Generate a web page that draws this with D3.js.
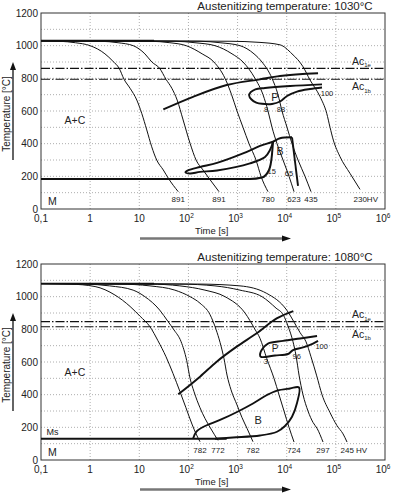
<!DOCTYPE html>
<html><head><meta charset="utf-8">
<script src="https://cdn.jsdelivr.net/npm/d3@7"></script>
<style>
body{margin:0;background:#fff}
svg{display:block;font-family:"Liberation Sans",Arial,sans-serif}
</style></head><body>
<svg id="chart" width="393" height="495"></svg>
<script>
// axes
const decades = [0.1, 1, 10, 1e2, 1e3, 1e4, 1e5, 1e6];
const decadeLabels = [["0,1", ""], ["1", ""], ["10", ""], ["10", "2"], ["10", "3"], ["10", "4"], ["10", "5"], ["10", "6"]];
const tempTicks = [0, 200, 400, 600, 800, 1000, 1200];
const gridTemps = d3.range(100, 1200, 100);

// ---- panel 1: austenitized at 1030 C  [time s, temp C]
const aust1 = 1030, ms1 = 184, ac1e1 = 861, ac1b1 = 794;
const cool1 = [
  [[0.1,1030],[0.24,1027],[0.5,1018],[1,1000],[2,950],[2.9,905],[3.9,861],[4.9,794],[6.5,739],[8.9,667],[11.2,586],[14.2,484],[17.9,381],[22.6,300],[30.8,239],[39,188],[62,106]],
  [[0.1,1030],[1.6,1027],[3.7,1018],[7.5,1000],[13,950],[18,900],[26,861],[35,794],[46,739],[59,667],[78,545],[108,402],[143,300],[198,239],[262,188],[419,106]],
  [[0.1,1030],[16.5,1027],[42,1018],[90,1000],[190,950],[330,900],[555,800],[755,700],[975,600],[1290,500],[1710,400],[2370,300],[3000,200],[4160,106]],
  [[0.1,1030],[53,1027],[136,1018],[347,1000],[771,950],[1290,900],[2260,800],[3290,700],[4160,600],[5020,500],[6350,400],[8410,300],[11140,200],[14090,106]],
  [[0.1,1030],[172,1027],[440,1018],[1120,1000],[2160,950],[3140,900],[5020,800],[6650,700],[8020,600],[10140,500],[12820,400],[16980,300],[23570,200],[31220,106]],
  [[0.1,1030],[700,1027],[2860,1020],[7310,1005],[12800,950],[21500,871],[29800,790],[47600,688],[65100,586],[76100,500],[88800,422],[121600,320],[194000,218],[310000,120]]
];
const hv1 = ["891", "891", "780", "623", "435", "230"];
const carb1 = [[30.8,610],[124,687],[601,759],[2860,794],[7310,814],[43400,831]];
const pOutline1 = [[52300,763],[11700,753],[3620,741],[2300,733],[1850,715],[1720,695],[1900,672],[2400,652],[3140,644],[5020,643],[7310,658],[10140,692],[16200,719],[29800,735],[52300,744]];
const bTongue1 = [[5260,410],[4570,361],[3620,318],[1790,279],[382,236],[172,227],[108,217],[87,224],[98,236],[172,257],[382,282],[1290,340],[2860,386],[5260,413],[7310,433],[12820,439]];
const bEdge1 = [[12820,439],[16980,141]];
const msLine1 = [[0.1,184],[1790,184],[3140,193],[4360,239],[5000,330],[5260,410]];
const notes1 = [["P",5780,684,11],["B",7310,351,10.5],["8",3790,612,7.5],["88",7650,612,7.5],["100",66100,710,7.5],["15",4950,228,7.5],["65",11140,220,7.5],["A+C",0.49,545,10.5],["M",0.171,45,10.5]];

// ---- panel 2: austenitized at 1080 C
const aust2 = 1080, ms2 = 130, ac1e2 = 847, ac1b2 = 816;
const cool2 = [
  [[0.1,1080],[0.39,1077],[1.26,1062],[3.2,1010],[6.5,940],[10.4,880],[16.5,816],[24,730],[35,632],[48.5,530],[67,420],[89,320],[118,220],[143,160],[172,112]],
  [[0.1,1080],[0.79,1077],[2.5,1066],[7.5,1040],[13,1000],[26,918],[38,850],[51,796],[71,724],[92,610],[108,500],[130,418],[172,320],[217,255],[288,190],[400,120]],
  [[0.1,1080],[4,1077],[16.5,1066],[53,1040],[108,1000],[172,960],[275,890],[364,800],[440,720],[530,620],[610,520],[735,430],[975,337],[1230,260],[1556,194],[2060,112]],
  [[0.1,1080],[16.5,1077],[67,1066],[217,1040],[555,1000],[1417,900],[2260,800],[2860,745],[3920,622],[5510,500],[6970,400],[8810,300],[11140,200],[14090,110]],
  [[0.1,1080],[67,1077],[347,1066],[1120,1040],[3140,1000],[6060,930],[8530,888],[10620,820],[13430,724],[15460,640],[17800,520],[21460,400],[27100,300],[34300,230],[41400,194],[54800,110]],
  [[0.1,1080],[172,1077],[1120,1066],[3920,1020],[10000,918],[15960,816],[18700,780],[24700,724],[31200,632],[40800,515],[52300,400],[76100,290],[105700,210],[140000,160],[168700,110]]
];
const hv2 = ["782", "772", "782", "724", "297", "245"];
const carb2 = [[62,402],[172,510],[376,602],[960,694],[2450,776],[6250,867],[13620,912]];
const pOutline2 = [[41400,759],[18700,744],[8410,729],[4160,713],[3290,686],[2860,645],[3000,631],[5780,640],[10620,649],[13430,673],[21460,689],[34300,713],[43400,729]];
const bOutline2 = [[124,130],[143,171],[198,202],[440,245],[975,294],[2060,346],[3970,398],[6350,425],[11700,438],[17800,444],[16200,349],[12820,265],[9230,208],[6350,173],[2860,150],[807,138],[347,130]];
const msLine2 = [[0.1,130],[600,130]];
const notes2 = [["P",5780,680,10],["B",2640,245,11],["3",3740,606,7.5],["96",15960,637,7.5],["100",51500,694,7.5],["A+C",0.49,539,10.5],["M",0.171,49,10.5],["Ms",0.171,174,9]];

const svg = d3.select("#chart");
const x = d3.scaleLog().domain([0.1, 1e6]).range([41, 385]);

function drawPanel(p) {
  const y = d3.scaleLinear().domain([0, 1200]).range([p.y1, p.y0]);
  const g = svg.append("g");
  const smooth = d3.line().x(d => x(d[0])).y(d => y(d[1])).curve(d3.curveMonotoneX);
  const loop = d3.line().x(d => x(d[0])).y(d => y(d[1])).curve(d3.curveCatmullRom);

  // dotted grid
  g.selectAll(".vg").data(decades.slice(1, -1)).join("line")
    .attr("x1", d => x(d)).attr("x2", d => x(d)).attr("y1", p.y0).attr("y2", p.y1)
    .attr("stroke", "#999").attr("stroke-width", 0.8).attr("stroke-dasharray", "1,2");
  g.selectAll(".hg").data(gridTemps).join("line")
    .attr("x1", 41).attr("x2", 385).attr("y1", d => y(d)).attr("y2", d => y(d))
    .attr("stroke", "#999").attr("stroke-width", 0.8).attr("stroke-dasharray", "1,2");

  g.append("rect").attr("x", 41).attr("y", p.y0).attr("width", 344).attr("height", p.y1 - p.y0)
    .attr("fill", "none").attr("stroke", "#333").attr("stroke-width", 1);

  // tick labels
  g.selectAll(".yl").data(tempTicks).join("text")
    .attr("x", 38).attr("y", d => y(d)).attr("dy", "0.35em").attr("text-anchor", "end")
    .attr("font-size", 10).attr("fill", "#222").text(d => d);
  const xl = g.selectAll(".xl").data(decades).join("text")
    .attr("x", (d, i) => x(d) + (decadeLabels[i][1] ? -2 : 0)).attr("y", p.y1 + 13)
    .attr("text-anchor", "middle").attr("font-size", 10).attr("fill", "#222");
  xl.append("tspan").text((d, i) => decadeLabels[i][0]);
  xl.append("tspan").attr("dy", -4).attr("font-size", 6.5).text((d, i) => decadeLabels[i][1]);

  g.append("text").attr("x", 285).attr("y", p.y0 - 3).attr("text-anchor", "middle")
    .attr("font-size", 11.5).attr("fill", "#222").text(p.title);

  // axis titles with arrows
  g.append("text").attr("x", 195).attr("y", p.y1 + 25).attr("font-size", 9.5).attr("fill", "#222").text("Time [s]");
  g.append("line").attr("x1", 140).attr("x2", 282).attr("y1", p.y1 + 29.5).attr("y2", p.y1 + 29.5)
    .attr("stroke", "#777").attr("stroke-width", 2.5);
  g.append("path").attr("d", `M282,${p.y1 + 26.5}L291,${p.y1 + 29.5}L282,${p.y1 + 32.5}Z`).attr("fill", "#111");
  g.append("text").attr("transform", `translate(10,${p.y0 + 101}) rotate(-90)`).attr("text-anchor", "middle")
    .attr("font-size", 10).attr("fill", "#222").text("Temperature [°C]");
  g.append("line").attr("x1", 13).attr("x2", 13).attr("y1", p.y0 + 147).attr("y2", p.y0 + 55)
    .attr("stroke", "#111").attr("stroke-width", 1.3);
  g.append("path").attr("d", `M10,${p.y0 + 57}L13,${p.y0 + 49}L16,${p.y0 + 57}Z`).attr("fill", "#111");

  // Ac lines
  [p.ace, p.acb].forEach(t => g.append("line").attr("x1", 41).attr("x2", 385).attr("y1", y(t)).attr("y2", y(t))
    .attr("stroke", "#111").attr("stroke-width", 1.1).attr("stroke-dasharray", "9,2,1.5,2"));
  [["1e", p.ace, -3.5], ["1b", p.acb, 11]].forEach(([s, t, dy]) => {
    const tx = g.append("text").attr("x", 352).attr("y", y(t) + dy).attr("font-size", 10.5).attr("fill", "#222");
    tx.append("tspan").text("Ac");
    tx.append("tspan").attr("dy", 2.5).attr("font-size", 6).text(s);
  });

  // austenitizing and Ms lines
  g.append("path").attr("d", smooth([[0.1, p.aust], [20, p.aust]])).attr("fill", "none").attr("stroke", "#111").attr("stroke-width", 1.8);
  g.append("path").attr("d", smooth(p.ms)).attr("fill", "none").attr("stroke", "#111").attr("stroke-width", 2);

  // cooling curves
  g.selectAll(".cc").data(p.cool).join("path").attr("d", smooth)
    .attr("fill", "none").attr("stroke", "#111").attr("stroke-width", 1);
  g.selectAll(".hv").data(p.cool).join("text")
    .attr("x", (d, i) => x(d[d.length - 1][0]) + (i === p.cool.length - 1 ? -6.5 : 0))
    .attr("y", p.y1 - 7).attr("text-anchor", (d, i) => i === p.cool.length - 1 ? "start" : "middle")
    .attr("font-size", 8).attr("fill", "#222")
    .text((d, i) => p.hv[i] + (i === p.cool.length - 1 ? p.hvSuffix : ""));

  // transformation regions
  g.append("path").attr("d", smooth(p.carb)).attr("fill", "none").attr("stroke", "#111").attr("stroke-width", 1.9);
  p.loops.forEach(l => g.append("path").attr("d", loop(l)).attr("fill", "none").attr("stroke", "#111").attr("stroke-width", 1.9));
  (p.extra || []).forEach(l => g.append("path").attr("d", smooth(l)).attr("fill", "none").attr("stroke", "#111").attr("stroke-width", 1.9));

  g.selectAll(".nt").data(p.notes).join("text")
    .attr("x", d => x(d[1])).attr("y", d => y(d[2])).attr("dy", "0.35em").attr("text-anchor", "middle")
    .attr("font-size", d => d[3]).attr("fill", "#222").text(d => d[0]);
}

drawPanel({y0: 13, y1: 209, title: "Austenitizing temperature: 1030°C", aust: aust1, ms: msLine1,
  ace: ac1e1, acb: ac1b1, cool: cool1, hv: hv1, hvSuffix: "HV", carb: carb1,
  loops: [pOutline1, bTongue1], extra: [bEdge1], notes: notes1});
drawPanel({y0: 264, y1: 460, title: "Austenitizing temperature: 1080°C", aust: aust2, ms: msLine2,
  ace: ac1e2, acb: ac1b2, cool: cool2, hv: hv2, hvSuffix: " HV", carb: carb2,
  loops: [pOutline2, bOutline2], notes: notes2});
</script>
</body></html>
